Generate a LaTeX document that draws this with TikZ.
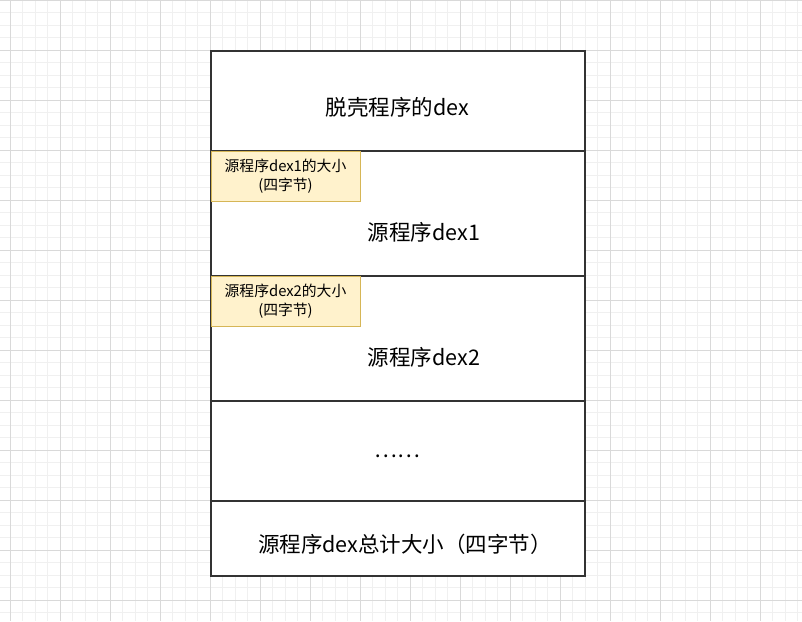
\documentclass[tikz,border=0pt]{standalone}
\usepackage{fontspec}
\setmainfont{Noto Sans CJK SC}
\definecolor{gridminor}{HTML}{F0F0F0}
\definecolor{gridmajor}{HTML}{D9D9D9}
\definecolor{boxline}{HTML}{333333}
\definecolor{notefill}{HTML}{FFF2CC}
\definecolor{noteline}{HTML}{D6B656}
\begin{document}
\begin{tikzpicture}[x=1pt,y=-1pt,
  cell/.style={draw=boxline,line width=1.2pt,fill=white},
  note/.style={draw=noteline,line width=1pt,fill=notefill},
  bigtext/.style={inner sep=0pt,font=\fontsize{21.5}{26}\selectfont},
  notetext/.style={inner sep=0pt,align=center,font=\fontsize{14.8}{19.5}\selectfont}]
\useasboundingbox (0,0) rectangle (802,621);
\fill[white] (0,0) rectangle (802,621);
% grid
\foreach \i in {0,...,64} {\draw[gridminor,line width=0.8pt] (10+12.5*\i,0) -- (10+12.5*\i,621);}
\foreach \i in {0,...,50} {\draw[gridminor,line width=0.8pt] (0,12.5*\i) -- (802,12.5*\i);}
\foreach \i in {0,...,16} {\draw[gridmajor,line width=0.8pt] (10+50*\i,0) -- (10+50*\i,621);}
\foreach \i in {0,...,12} {\draw[gridmajor,line width=0.8pt] (0,50*\i) -- (802,50*\i);}
% cells
\draw[cell] (211,51) rectangle (585,151) coordinate (c1);
\draw[cell] (211,151) rectangle (585,276) coordinate (c2);
\draw[cell] (211,276) rectangle (585,401) coordinate (c3);
\draw[cell] (211,401) rectangle (585,501) coordinate (c4);
\draw[cell] (211,501) rectangle (585,576) coordinate (c5);
% notes
\draw[note] (211,151) rectangle (360,201) coordinate (n1);
\draw[note] (211,276) rectangle (360,326) coordinate (n2);
% texts
\node[bigtext] (t1) at (397.5,107) {脱壳程序的dex};
\node[bigtext] (t2) at (424,232) {源程序dex1};
\node[bigtext] (t3) at (424,357) {源程序dex2};
\node[bigtext] (t4) at (397.5,456) {……};
\node[bigtext] (t5) at (405,544) {源程序dex总计大小（四字节）};
\node[notetext] (nt1) at (285.5,176) {源程序dex1的大小\\(四字节)};
\node[notetext] (nt2) at (285.5,301) {源程序dex2的大小\\(四字节)};
\end{tikzpicture}
\end{document}
